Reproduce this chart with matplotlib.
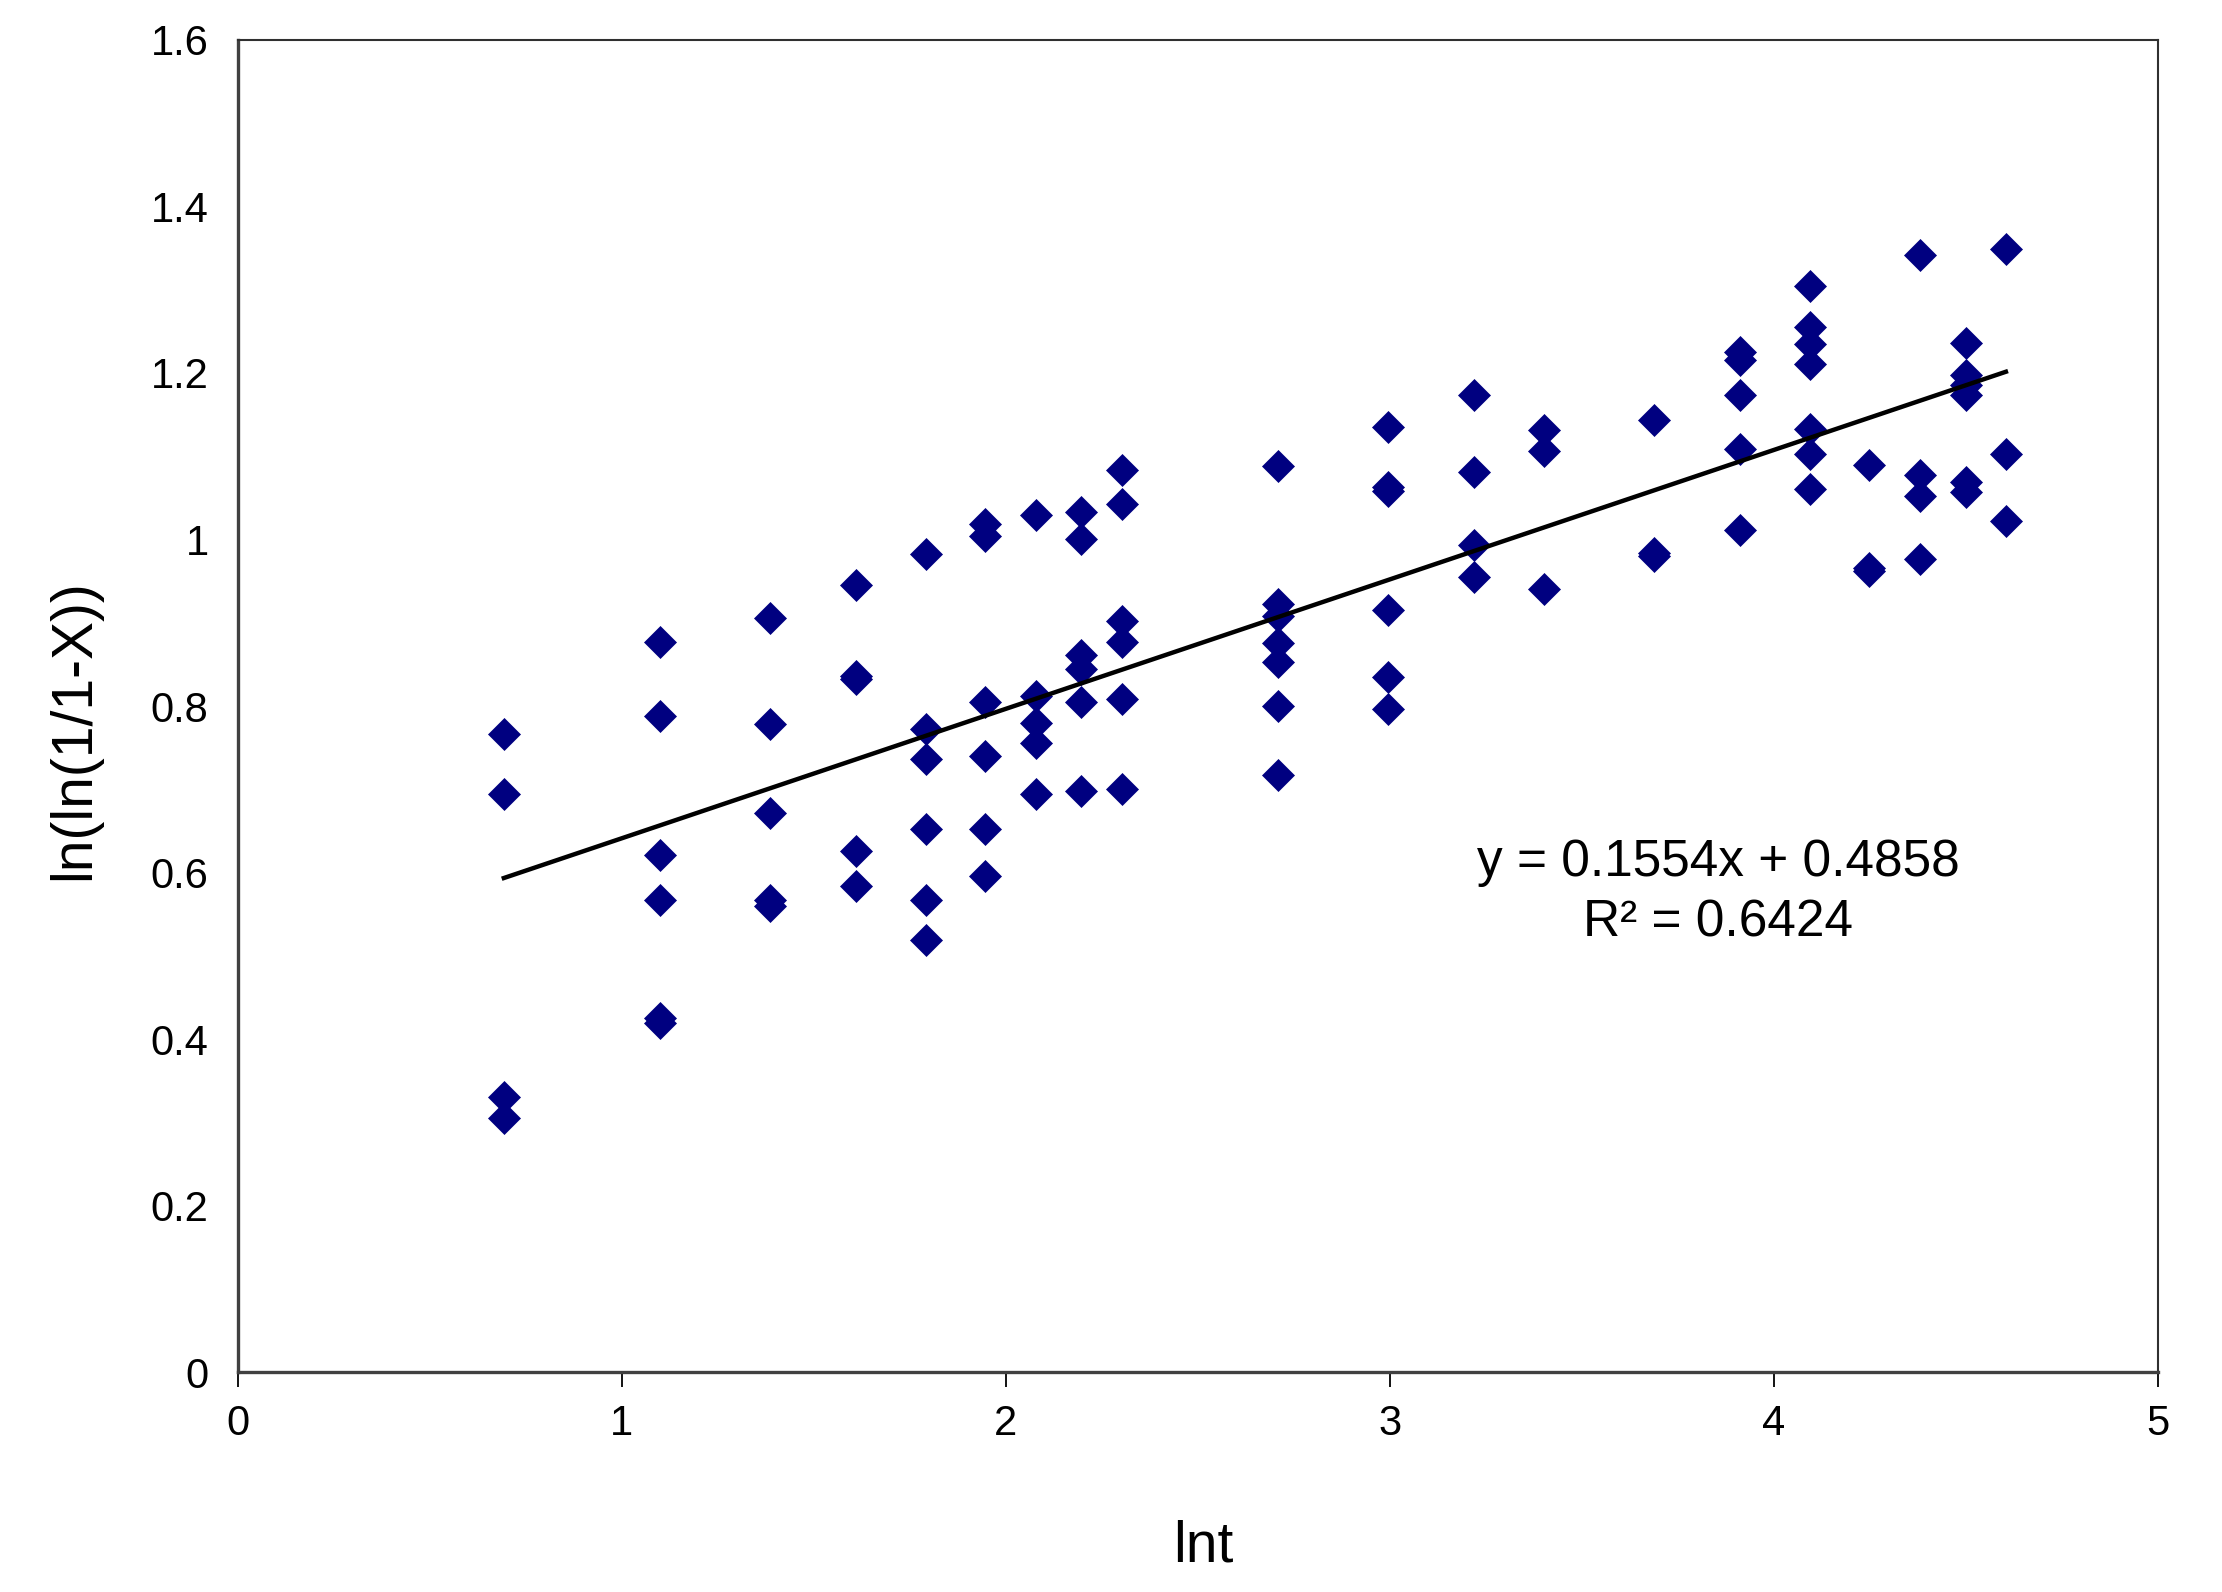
import matplotlib
matplotlib.use("Agg")
import matplotlib.pyplot as plt

plt.rcParams['font.family'] = ['Liberation Sans', 'DejaVu Sans']

# ln t for each sampling time, repeated per measured point
x_vals = [0.693, 0.693, 0.693, 0.693,
          1.099, 1.099, 1.099, 1.099, 1.099, 1.099,
          1.386, 1.386, 1.386, 1.386, 1.386,
          1.609, 1.609, 1.609, 1.609, 1.609,
          1.792, 1.792, 1.792, 1.792, 1.792, 1.792,
          1.946, 1.946, 1.946, 1.946, 1.946, 1.946,
          2.079, 2.079, 2.079, 2.079, 2.079,
          2.197, 2.197, 2.197, 2.197, 2.197, 2.197,
          2.303, 2.303, 2.303, 2.303, 2.303, 2.303,
          2.708, 2.708, 2.708, 2.708, 2.708, 2.708, 2.708,
          2.996, 2.996, 2.996, 2.996, 2.996, 2.996,
          3.219, 3.219, 3.219, 3.219,
          3.401, 3.401, 3.401,
          3.689, 3.689, 3.689,
          3.912, 3.912, 3.912, 3.912, 3.912,
          4.094, 4.094, 4.094, 4.094, 4.094, 4.094, 4.094,
          4.248, 4.248, 4.248,
          4.382, 4.382, 4.382, 4.382,
          4.500, 4.500, 4.500, 4.500, 4.500, 4.500,
          4.605, 4.605, 4.605]

# ln(ln(1/1-X))
y_vals = [0.766, 0.694, 0.330, 0.305,
          0.877, 0.788, 0.621, 0.567, 0.425, 0.420,
          0.906, 0.778, 0.672, 0.567, 0.560,
          0.945, 0.836, 0.832, 0.626, 0.584,
          0.982, 0.773, 0.737, 0.652, 0.567, 0.519,
          1.018, 1.004, 0.805, 0.740, 0.652, 0.596,
          1.030, 0.812, 0.780, 0.756, 0.694,
          1.033, 1.001, 0.861, 0.844, 0.805, 0.698,
          1.084, 1.043, 0.902, 0.877, 0.809, 0.700,
          1.088, 0.923, 0.908, 0.876, 0.853, 0.800, 0.717,
          1.135, 1.063, 1.058, 0.915, 0.835, 0.797,
          1.173, 1.081, 0.993, 0.955,
          1.131, 1.106, 0.940,
          1.143, 0.984, 0.980,
          1.225, 1.215, 1.173, 1.109, 1.011,
          1.304, 1.255, 1.235, 1.211, 1.133, 1.103, 1.061,
          1.090, 0.966, 0.962,
          1.342, 1.078, 1.052, 0.976,
          1.236, 1.197, 1.185, 1.173, 1.069, 1.057,
          1.349, 1.103, 1.022]

# linear trendline as printed on the chart
slope = 0.1554
intercept = 0.4858
r2 = 0.6424

x_ticks = [0, 1, 2, 3, 4, 5]
y_ticks = [0, 0.2, 0.4, 0.6, 0.8, 1.0, 1.2, 1.4, 1.6]
y_tick_labels = ['0', '0.2', '0.4', '0.6', '0.8', '1', '1.2', '1.4', '1.6']

fig = plt.figure(figsize=(22.22, 15.92), dpi=100)
ax = fig.add_axes([0.107, 0.138, 0.864, 0.837])

ax.plot(x_vals, y_vals, linestyle='none', marker='D', markersize=16,
        color='#000080', markeredgecolor='#000080', markeredgewidth=0.5, zorder=3)

x0, x1 = min(x_vals), max(x_vals)
ax.plot([x0, x1], [slope * x0 + intercept, slope * x1 + intercept],
        color='black', linewidth=3.2, zorder=4)

ax.set_xlim(0, 5)
ax.set_ylim(0, 1.6)
ax.set_xticks(x_ticks)
ax.set_xticklabels([str(t) for t in x_ticks])
ax.set_yticks(y_ticks)
ax.set_yticklabels(y_tick_labels)

ax.tick_params(axis='x', direction='out', length=11, width=1.3, pad=12, labelsize=30)
ax.tick_params(axis='y', length=0, pad=21, labelsize=30)

for side in ['left', 'bottom']:
    ax.spines[side].set_linewidth(2.4)
    ax.spines[side].set_color('#404040')
for side in ['top', 'right']:
    ax.spines[side].set_linewidth(1.5)
    ax.spines[side].set_color('#303030')

ax.set_xlabel('lnt', fontsize=41)
ax.xaxis.label.set_va('center')
ax.xaxis.set_label_coords(0.503, -0.131)
ax.set_ylabel('ln(ln(1/1-X))', fontsize=41)
ax.yaxis.label.set_va('center')
ax.yaxis.set_label_coords(-0.0854, 0.482)

ax.text(0.771, 0.360, f"y = {slope:.4f}x + {intercept:.4f}\nR² = {r2:.4f}",
        transform=ax.transAxes, ha='center', va='center', fontsize=37,
        multialignment='center', linespacing=1.3)

fig.savefig('out.png', dpi=100)
